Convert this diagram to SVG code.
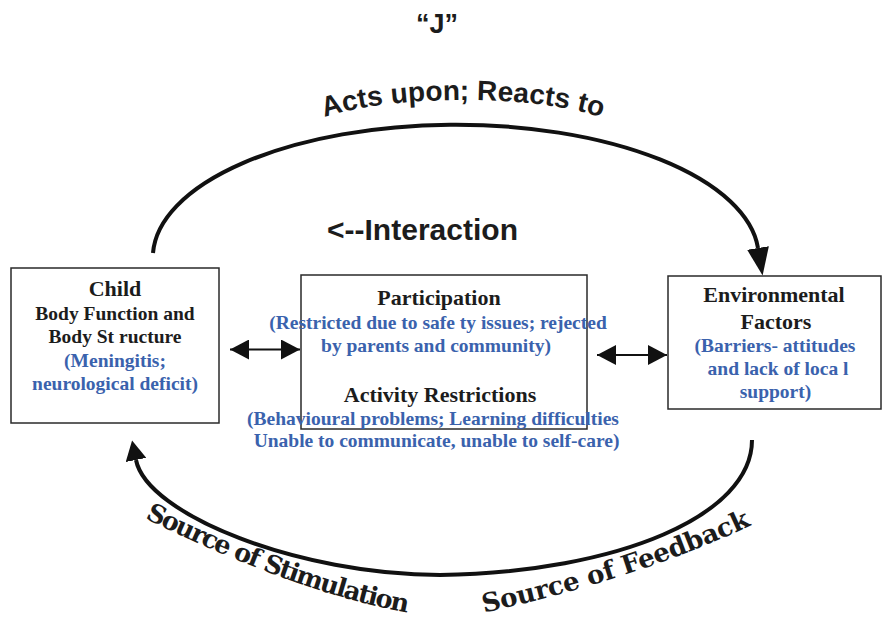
<svg xmlns="http://www.w3.org/2000/svg" width="883" height="619" viewBox="0 0 883 619">
<style>
.box{fill:#fff;stroke:#2a2a2a;stroke-width:1.5}
.hd{font-family:"Liberation Serif","Times New Roman",serif;font-weight:bold;font-size:22px;fill:#1c1c1c;text-anchor:middle}
.bd{font-family:"Liberation Serif","Times New Roman",serif;font-weight:bold;font-size:19.5px;fill:#1c1c1c;text-anchor:middle}
.bl{font-family:"Liberation Serif","Times New Roman",serif;font-weight:bold;font-size:19.5px;fill:#3a62ad;text-anchor:middle}
.sans{font-family:"Liberation Sans",Arial,sans-serif;font-weight:bold;fill:#1c1c1c}
.curve{font-family:"DejaVu Serif","Liberation Serif",serif;font-weight:bold;fill:#1c1c1c}
.arc{fill:none;stroke:#111;stroke-width:4}
.dbl{fill:none;stroke:#111;stroke-width:2}
</style>
<defs>
<marker id="headTop" markerUnits="userSpaceOnUse" viewBox="0 0 28 22" markerWidth="28" markerHeight="22" refX="0" refY="11" orient="auto"><path d="M0,0 L28,11 L0,22 z" fill="#111"/></marker>
<marker id="headBot" markerUnits="userSpaceOnUse" viewBox="0 0 20 21" markerWidth="20" markerHeight="21" refX="0" refY="10.5" orient="auto"><path d="M0,0 L20,10.5 L0,21 z" fill="#111"/></marker>
<marker id="headDbl" markerUnits="userSpaceOnUse" viewBox="0 0 19 20" markerWidth="19" markerHeight="20" refX="19" refY="10" orient="auto-start-reverse"><path d="M0,0 L19,10 L0,20 z" fill="#111"/></marker>
<path id="pTop" d="M310.7,123.1 A168,40 0 0 1 615.3,123.1"/>
<path id="pStim" d="M140,516 Q300,595 420,615"/>
<path id="pFeed" d="M478,614 Q640,579 760,521"/>
</defs>

<text id="title" class="sans" x="437" y="33" font-size="27" text-anchor="middle">“J”</text>

<g id="connectors">
<path class="arc" d="M153,253 A303,133 0 0 1 758,248" marker-end="url(#headTop)"/>
<path class="arc" d="M752,440 C752,515 620,572 440,575 C300,575 147,515 136,460" marker-end="url(#headBot)"/>
<line class="dbl" x1="230" y1="349.5" x2="300" y2="349.5" marker-start="url(#headDbl)" marker-end="url(#headDbl)"/>
<line class="dbl" x1="597" y1="355" x2="667" y2="355" marker-start="url(#headDbl)" marker-end="url(#headDbl)"/>
<text class="sans" font-size="28"><textPath href="#pTop" startOffset="50%" text-anchor="middle">Acts upon; Reacts to</textPath></text>
<text class="sans" x="327" y="240" font-size="30" textLength="191" lengthAdjust="spacingAndGlyphs">&lt;--Interaction</text>
<text class="curve" font-size="25.5"><textPath href="#pStim" startOffset="5" textLength="280">Source of Stimulation</textPath></text>
<text class="curve" font-size="26"><textPath href="#pFeed" startOffset="6" textLength="282">Source of Feedback</textPath></text>
</g>

<g id="child">
<rect class="box" x="11" y="268" width="208" height="155"/>
<text class="hd" x="115" y="296">Child</text>
<text class="bd" x="115" y="320">Body Function and</text>
<text class="bd" x="115" y="343">Body St ructure</text>
<text class="bl" x="115" y="367">(Meningitis;</text>
<text class="bl" x="115" y="390">neurological deficit)</text>
</g>

<g id="participation">
<rect class="box" x="301" y="275" width="286" height="154"/>
<text class="hd" x="439" y="305">Participation</text>
<text class="bl" x="438" y="328.5">(Restricted due to safe ty issues; rejected</text>
<text class="bl" x="436" y="352">by parents and community)</text>
<text class="hd" x="440" y="402">Activity Restrictions</text>
<text class="bl" x="433" y="425">(Behavioural problems; Learning difficulties</text>
<text class="bl" x="436.5" y="447">Unable to communicate, unable to self-care)</text>
</g>

<g id="environment">
<rect class="box" x="668" y="276" width="213" height="133"/>
<text class="hd" x="774" y="302">Environmental</text>
<text class="hd" x="776" y="328.5">Factors</text>
<text class="bl" x="775" y="352">(Barriers- attitudes</text>
<text class="bl" x="778" y="375">and lack of loca l</text>
<text class="bl" x="775.5" y="397.5">support)</text>
</g>
</svg>
